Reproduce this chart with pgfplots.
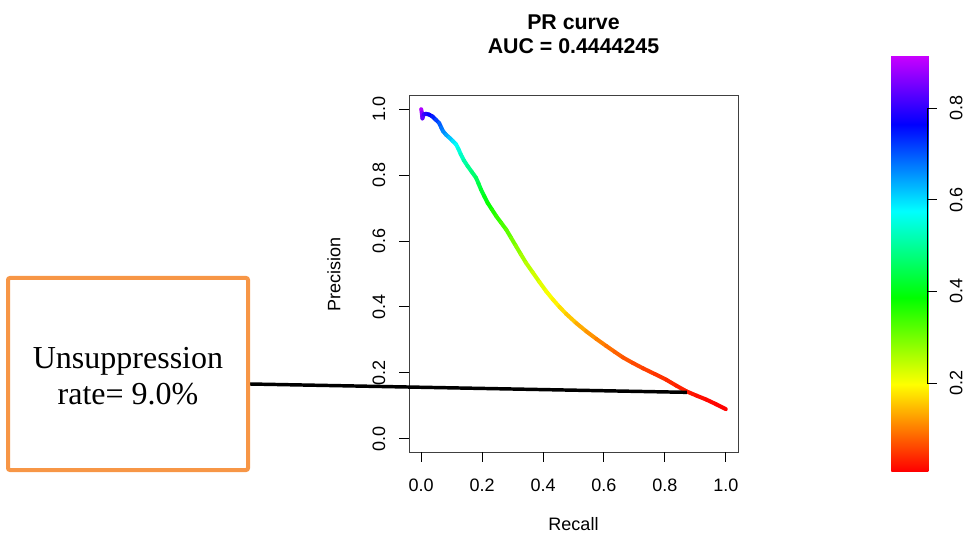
\documentclass[border=0pt]{standalone}
\usepackage{fontspec}
\setmainfont{Liberation Sans}
\newfontfamily\timesf{Liberation Serif}
\usepackage{pgfplots}
\pgfplotsset{compat=1.18}
\usepackage{pgfplotstable}
\definecolor{boxorange}{RGB}{247,150,70}
\pgfplotstableread{
r p c
0.000 1.000 0.910
0.002 0.990 0.880
0.004 0.972 0.850
0.008 0.984 0.820
0.015 0.986 0.800
0.025 0.984 0.780
0.037 0.978 0.755
0.048 0.968 0.730
0.059 0.958 0.705
0.066 0.944 0.685
0.072 0.933 0.670
0.082 0.922 0.650
0.092 0.914 0.630
0.104 0.903 0.605
0.114 0.894 0.580
0.122 0.880 0.560
0.130 0.863 0.540
0.140 0.845 0.520
0.152 0.828 0.500
0.166 0.810 0.480
0.180 0.792 0.460
0.188 0.775 0.445
0.196 0.757 0.430
0.207 0.736 0.410
0.218 0.716 0.390
0.232 0.696 0.370
0.246 0.676 0.355
0.262 0.656 0.340
0.279 0.635 0.325
0.295 0.610 0.308
0.311 0.585 0.290
0.327 0.560 0.273
0.344 0.534 0.257
0.366 0.505 0.240
0.388 0.476 0.225
0.410 0.448 0.210
0.432 0.423 0.195
0.454 0.400 0.180
0.476 0.379 0.166
0.509 0.351 0.145
0.542 0.326 0.125
0.575 0.303 0.110
0.607 0.282 0.096
0.635 0.264 0.085
0.662 0.247 0.075
0.695 0.230 0.066
0.728 0.214 0.058
0.766 0.197 0.050
0.805 0.179 0.042
0.838 0.161 0.035
0.871 0.144 0.028
0.904 0.131 0.021
0.936 0.119 0.015
0.968 0.105 0.011
1.000 0.090 0.008
}\prdata
\begin{document}
\begin{tikzpicture}
\path[use as bounding box] (0,0) rectangle (723.75pt,399.75pt);
\begin{axis}[
  at={(306.75pt,60.75pt)}, anchor=south west,
  scale only axis, width=246.75pt, height=267pt,
  xmin=-0.04, xmax=1.04, ymin=-0.04, ymax=1.04,
  xtick={0,0.2,0.4,0.6,0.8,1}, ytick={0,0.2,0.4,0.6,0.8,1},
  xticklabels={0.0,0.2,0.4,0.6,0.8,1.0},
  yticklabels={0.0,0.2,0.4,0.6,0.8,1.0},
  xtick pos=bottom, ytick pos=left,
  major tick length=0pt,
  axis line style={black!75, line width=0.75pt},
  ticklabel style={font=\fontsize{13.5}{15}\selectfont},
  xticklabel shift=16.75pt, yticklabel shift=14.25pt,
  yticklabel style={rotate=90, anchor=south},
  title={PR curve\\AUC = 0.4444245},
  title style={at={(axis description cs:0.5,1.152)}, anchor=center, align=center, font=\bfseries\fontsize{16}{18}\selectfont},
  xlabel={Recall}, ylabel={Precision},
  xlabel style={at={(axis description cs:0.5,-0.202)}, anchor=center, font=\fontsize{13.5}{15}\selectfont},
  ylabel style={at={(axis description cs:-0.228,0.5)}, anchor=center, font=\fontsize{13.5}{15}\selectfont},
  colormap={rrain}{rgb255(0cm)=(255,0,0) rgb255(1cm)=(255,255,0) rgb255(2cm)=(0,255,0) rgb255(3cm)=(0,255,255) rgb255(4cm)=(0,0,255) rgb255(4.8cm)=(204,0,255)},
  point meta min=0.008, point meta max=0.916,
  colorbar,
  colorbar/width=27.75pt,
  colorbar style={
    at={(parent axis.south west)}, anchor=south west,
    xshift=353.25pt, yshift=-14.25pt,
    scale only axis, width=27.75pt, height=312pt,
    ytick={0.2,0.4,0.6,0.8}, yticklabels={0.2,0.4,0.6,0.8},
    ytick pos=right, yticklabel pos=right,
    major tick length=0pt,
    yticklabel shift=12.5pt,
    axis line style={draw=none},
    yticklabel style={rotate=90, anchor=north, font=\fontsize{13.5}{15}\selectfont},
  },
]
\addplot[mesh, line width=3pt, point meta=explicit, line cap=round, line join=round] table[x=r, y=p, meta=c] {\prdata};
\coordinate (E) at (axis cs:0.872,0.141);
\coordinate (xa) at (axis cs:0,-0.04);
\coordinate (xb) at (axis cs:0.2,-0.04);
\coordinate (xc) at (axis cs:0.4,-0.04);
\coordinate (xd) at (axis cs:0.6,-0.04);
\coordinate (xe) at (axis cs:0.8,-0.04);
\coordinate (xf) at (axis cs:1,-0.04);
\coordinate (ya) at (axis cs:-0.04,0);
\coordinate (yb) at (axis cs:-0.04,0.2);
\coordinate (yc) at (axis cs:-0.04,0.4);
\coordinate (yd) at (axis cs:-0.04,0.6);
\coordinate (ye) at (axis cs:-0.04,0.8);
\coordinate (yf) at (axis cs:-0.04,1);
\end{axis}
\foreach \n in {xa,xb,xc,xd,xe,xf}{
  \draw[black, line width=0.75pt] (\n) -- ++(0,-7.5pt);
}
\foreach \n in {ya,yb,yc,yd,ye,yf}{
  \draw[black, line width=0.75pt] (\n) -- ++(-7.5pt,0);
}
\draw[black, line width=0.75pt] (695.25pt,112.49pt) -- (695.25pt,318.63pt);
\foreach \v in {112.49,181.19,249.92,318.63}{
  \draw[black, line width=0.75pt] (695.25pt,\v pt) -- ++(7.5pt,0);
}
\draw[black, line width=2.6pt] (187.5pt,111.75pt) -- (E);
\draw[boxorange, line width=3pt, rounded corners=1.5pt, fill=white] (6pt,47.25pt) rectangle (186pt,191.25pt);
\node[align=center, font=\timesf\fontsize{24}{27}\selectfont] at (96pt,117.75pt) {Unsuppression\\rate= 9.0\%};
\end{tikzpicture}
\end{document}
